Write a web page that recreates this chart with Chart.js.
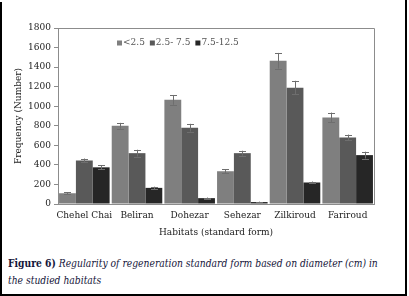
<!DOCTYPE html>
<html><head><meta charset="utf-8">
<script src="https://cdn.jsdelivr.net/npm/chart.js@4"></script>
<style>
html,body{margin:0;padding:0;background:#fff;}
#wrap{position:relative;width:409px;height:296px;overflow:hidden;background:#fff;}
#cv{position:absolute;left:0;top:0;}
.bl{position:absolute;background:#000;}
#cap{position:absolute;left:8px;top:255px;font-family:"DejaVu Serif",serif;font-size:11.5px;line-height:17px;color:#15153a;white-space:nowrap;transform:scaleX(0.8);transform-origin:0 0;}
#cap b{font-weight:bold;}
#cap i{font-style:italic;}
</style></head>
<body>
<div id="wrap">
<canvas id="cv" width="409" height="245"></canvas>
<div id="cap"><b>Figure 6)</b> <i>Regularity of regeneration standard form based on diameter (cm) in<br>the studied habitats</i></div>
<div class="bl" style="left:0;top:2px;width:2px;height:294px"></div>
<div class="bl" style="left:405px;top:0;width:2px;height:296px"></div>
<div class="bl" style="left:0;top:294px;width:407px;height:2px"></div>
</div>
<script>
const categories = ["Chehel Chai","Beliran","Dohezar","Sehezar","Zilkiroud","Fariroud"];
const seriesNames = ["<2.5","2.5- 7.5","7.5-12.5"];
const small = [110, 800, 1065, 335, 1465, 885];
const medium = [445, 520, 780, 520, 1190, 680];
const large = [375, 165, 60, 20, 220, 500];
const smallErr = [10, 30, 50, 20, 80, 50];
const mediumErr = [20, 35, 40, 25, 70, 30];
const largeErr = [20, 12, 6, 4, 10, 35];
const yTicks = [0,200,400,600,800,1000,1200,1400,1600,1800];
const colors = ["#7f7f7f","#595959","#262626"];

const FONT = '"DejaVu Serif", serif';
Chart.defaults.font.family = FONT;

const errorBars = {
  id:'errorBars',
  afterDatasetsDraw(chart){
    const ctx = chart.ctx, ys = chart.scales.y;
    ctx.save();
    ctx.strokeStyle = '#6e6e6e';
    ctx.lineWidth = 1;
    chart.data.datasets.forEach((ds,i)=>{
      const meta = chart.getDatasetMeta(i);
      meta.data.forEach((bar,j)=>{
        const v = ds.data[j], e = ds.errors[j];
        const x = Math.round(bar.x)+0.5;
        const y1 = ys.getPixelForValue(v+e), y2 = ys.getPixelForValue(v-e);
        ctx.beginPath();
        ctx.moveTo(x,y1); ctx.lineTo(x,y2);
        ctx.moveTo(x-3.5,Math.round(y1)+0.5); ctx.lineTo(x+3.5,Math.round(y1)+0.5);
        ctx.moveTo(x-3.5,Math.round(y2)+0.5); ctx.lineTo(x+3.5,Math.round(y2)+0.5);
        ctx.stroke();
      });
    });
    ctx.restore();
  }
};

const boxAndLegend = {
  id:'boxAndLegend',
  afterDraw(chart){
    const ctx = chart.ctx, a = chart.chartArea;
    ctx.save();
    ctx.strokeStyle = '#8c8c8c';
    ctx.lineWidth = 1;
    ctx.beginPath();
    ctx.moveTo(a.left+0.5, Math.round(a.top)+0.5);
    ctx.lineTo(Math.round(a.right)+0.5, Math.round(a.top)+0.5);
    ctx.lineTo(Math.round(a.right)+0.5, a.bottom);
    ctx.stroke();
    ctx.font = "9px " + FONT;
    ctx.textBaseline = 'middle';
    let x = a.left + 59;
    const y = a.top + 15;
    chart.data.datasets.forEach((ds,i)=>{
      ctx.fillStyle = colors[i];
      ctx.fillRect(x, y-2.5, 5, 5);
      ctx.fillStyle = '#555';
      ctx.fillText(ds.label, x+6, y);
      x += 6 + ctx.measureText(ds.label).width + 5;
    });
    ctx.restore();
  }
};

new Chart(document.getElementById('cv'), {
  type:'bar',
  data:{
    labels:categories,
    datasets:[
      {label:seriesNames[0], data:small, errors:smallErr, backgroundColor:colors[0]},
      {label:seriesNames[1], data:medium, errors:mediumErr, backgroundColor:colors[1]},
      {label:seriesNames[2], data:large, errors:largeErr, backgroundColor:colors[2]}
    ]
  },
  options:{
    responsive:false,
    animation:false,
    devicePixelRatio:1,
    layout:{padding:{left:0,right:35,top:28,bottom:5}},
    datasets:{bar:{barPercentage:1,categoryPercentage:0.96,borderWidth:0}},
    plugins:{legend:{display:false},tooltip:{enabled:false}},
    scales:{
      x:{
        grid:{display:false,drawTicks:false},
        border:{display:true,color:'#8c8c8c'},
        ticks:{font:{family:FONT,size:9},color:'#222',padding:6,maxRotation:0,autoSkip:false},
        title:{display:true,text:'Habitats (standard form)',font:{family:FONT,size:9},color:'#222',padding:{top:5,bottom:2}},
        afterFit(s){ s.height = 36; }
      },
      y:{
        min:0,max:1800,
        afterBuildTicks(s){ s.ticks = yTicks.map(v=>({value:v})); },
        grid:{drawOnChartArea:false,drawTicks:true,tickLength:4,color:'#8c8c8c'},
        border:{display:true,color:'#8c8c8c'},
        ticks:{font:{family:FONT,size:9},color:'#222',padding:3,callback:(v)=>String(v)},
        title:{display:true,text:'Frequency (Number)',font:{family:FONT,size:9},color:'#222',padding:{top:13,bottom:2}},
        afterFit(s){ s.width = 58; }
      }
    }
  },
  plugins:[errorBars, boxAndLegend]
});
</script>
</body></html>
